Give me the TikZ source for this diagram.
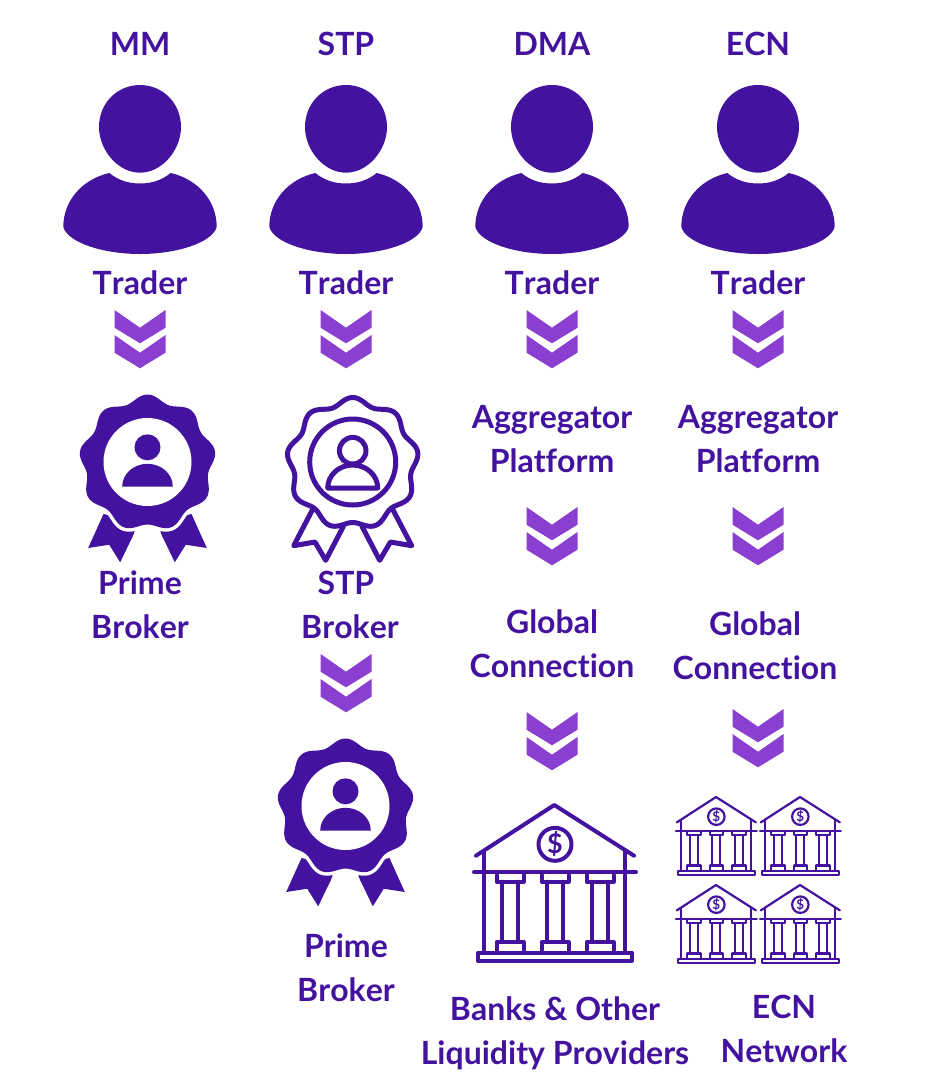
\documentclass[tikz,border=0pt]{standalone}
\usepackage{fontspec}
\setmainfont{Lato}[Ligatures=NoCommon,Kerning=Off]
\definecolor{dark}{HTML}{43139F}
\definecolor{light}{HTML}{8A3FD1}
\usetikzlibrary{calc}

\newcommand{\sealpath}[2]{plot[domain=0:360,samples=181] ({(#1+#2*cos(9*(\x+90)))*cos(\x)},{(#1+#2*cos(9*(\x+90)))*sin(\x)})}

\tikzset{
  label text/.style={text=dark, inner sep=0pt, align=center, anchor=base, font=\bfseries\fontsize{32}{44}\selectfont},
  pics/person/.style={code={
    \fill[dark] (0,85) .. controls (22.6,85) and (41,103) .. (41,127)
      .. controls (41,150) and (22,172.7) .. (0,172.7)
      .. controls (-22,172.7) and (-41,150) .. (-41,127)
      .. controls (-41,103) and (-22.6,85) .. (0,85) -- cycle;
    \fill[dark] (-30.7,173) .. controls (-22,180) and (-12,183.5) .. (0,183.5)
      .. controls (12,183.5) and (22,180) .. (30.7,173)
      .. controls (57,179) and (76.7,200) .. (76.7,227)
      .. controls (72,243) and (36,254) .. (0,254)
      .. controls (-36,254) and (-72,243) .. (-76.7,227)
      .. controls (-76.7,200) and (-57,179) .. (-30.7,173) -- cycle;
  }},
  pics/chevrons/.style={code={
    \fill[light] (-25.5,0) -- (0,17.7) -- (25.5,0) -- (25.5,17.7) -- (0,33.3) -- (-25.5,17.7) -- cycle;
    \fill[light] (-25.5,25) -- (0,42.7) -- (25.5,25) -- (25.5,42.7) -- (0,58.3) -- (-25.5,42.7) -- cycle;
  }},
  pics/seal/.style={code={
    % Ribbons
    \fill[dark] (-44,51) -- (-10,59) -- (-14,71.7) -- (-27.3,99.3) -- (-38.3,81.7) -- (-59.3,85) -- cycle;
    \fill[dark] (44,51) -- (10,59) -- (14,71.7) -- (27.3,99.3) -- (38.3,81.7) -- (59.3,85) -- cycle;
    % Rosette
    \draw[white,line width=7pt] \sealpath{65}{3.5} -- cycle;
    \fill[dark] \sealpath{65}{3.5} -- cycle;
    \fill[white] (0,-1) circle (44);
    % Figure
    \fill[dark] (0,-15.7) circle (13);
    \fill[dark] (-25.3,23.5) arc (180:360:25.3 and 22.7) -- cycle;
  }},
  pics/sealoutline/.style={code={
    \begin{scope}[dark,line width=5pt,line join=round,line cap=round]
    % Ribbons
    \draw (-39.3,44.5) -- (-59,82.2) -- (-37.7,78.5) -- (-27,96.8) -- (-9.3,62.8);
    \draw (39.3,44.5) -- (59,82.2) -- (37.7,78.5) -- (27,96.8) -- (9.3,62.8);
    % Rosette
    \draw \sealpath{62.5}{3.5} -- cycle;
    \draw (0,-1.5) circle (43);
    % Figure
    \draw (0,-12.8) circle (13.3);
    \draw (-25,24.5) arc (180:360:25 and 23) -- cycle;
    \end{scope}
  }},
  pics/bank/.style={code={
    \begin{scope}[dark,line width=#1,line join=round,line cap=round]
    % Roof and walls
    \draw (-78.3,50.7) -- (0,0) -- (79.7,50.7);
    \draw (-70,46) -- (-70,145);
    \draw (70.7,46) -- (70.7,145);
    \draw (-80.3,67.3) -- (81.7,67.3);
    \draw (0.7,39.3) circle (16.5);
    \node[dark,inner sep=0pt,transform shape,font=\bfseries\fontsize{27}{27}\selectfont] (dollar) at (0.7,39.3) {\$};
    % Columns
    \foreach \cx in {-44.3,0.7,45.7} {
      \draw (\cx-13.5,70) -- (\cx-13.5,76.7) -- (\cx+13.5,76.7) -- (\cx+13.5,70);
      \draw (\cx-8,76.7) -- (\cx-8,137);
      \draw (\cx+8,76.7) -- (\cx+8,137);
      \draw (\cx-13.5,145) -- (\cx-13.5,137) -- (\cx+13.5,137) -- (\cx+13.5,145);
    }
    % Plinth
    \draw (-76.3,147.5) rectangle (77.7,155.5);
    \end{scope}
  }}
}

\begin{document}
\begin{tikzpicture}[x=1pt,y=-1pt]
\useasboundingbox (0,0) rectangle (934,1080);

% Column titles
\node [label text] (mm)  at (140,55) {MM};
\node [label text] (stp) at (346,55) {STP};
\node [label text] (dma) at (552,55) {DMA};
\node [label text] (ecn) at (758,55) {ECN};

% Traders
\foreach \cx/\nm in {140/a,346/b,552/c,758/d} {
  \pic at (\cx,0) {person};
  \node [label text] (trader\nm) at (\cx,294) {Trader};
  \pic at (\cx,310) {chevrons};
}

% MM
\pic at (147.5,463) {seal};
\node [label text] (primea) at (140,638.5) {Prime\\Broker};

% STP
\pic at (352.7,463.5) {sealoutline};
\node [label text] (stpa) at (346,594.5) {STP};
\node [label text] (stpb) at (350,638.5) {Broker};
\pic at (346,654) {chevrons};
\pic at (345.5,807) {seal};
\node [label text] (primeb) at (346,1001.5) {Prime\\Broker};

% DMA
\node [label text] (aggra) at (552,472.5) {Aggregator\\Platform};
\pic at (552,507) {chevrons};
\node [label text] (globala) at (552,677.5) {Global\\Connection};
\pic at (552,712) {chevrons};
\pic at (554.3,805) {bank=4pt};
\node [label text] (banks) at (555,1064.5) {Banks \& Other\\Liquidity Providers};

% ECN
\node [label text] (aggrb) at (758,472.5) {Aggregator\\Platform};
\pic at (758,507) {chevrons};
\node [label text] (globalb) at (755,679.5) {Global\\Connection};
\pic at (758,709) {chevrons};
\pic [scale=.5] at (716,797) {bank=2.2pt};
\pic [scale=.5] at (800,797) {bank=2.2pt};
\pic [scale=.5] at (716,885) {bank=2.2pt};
\pic [scale=.5] at (800,885) {bank=2.2pt};
\node [label text] (network) at (784,1062.5) {ECN\\Network};
\end{tikzpicture}
\end{document}
